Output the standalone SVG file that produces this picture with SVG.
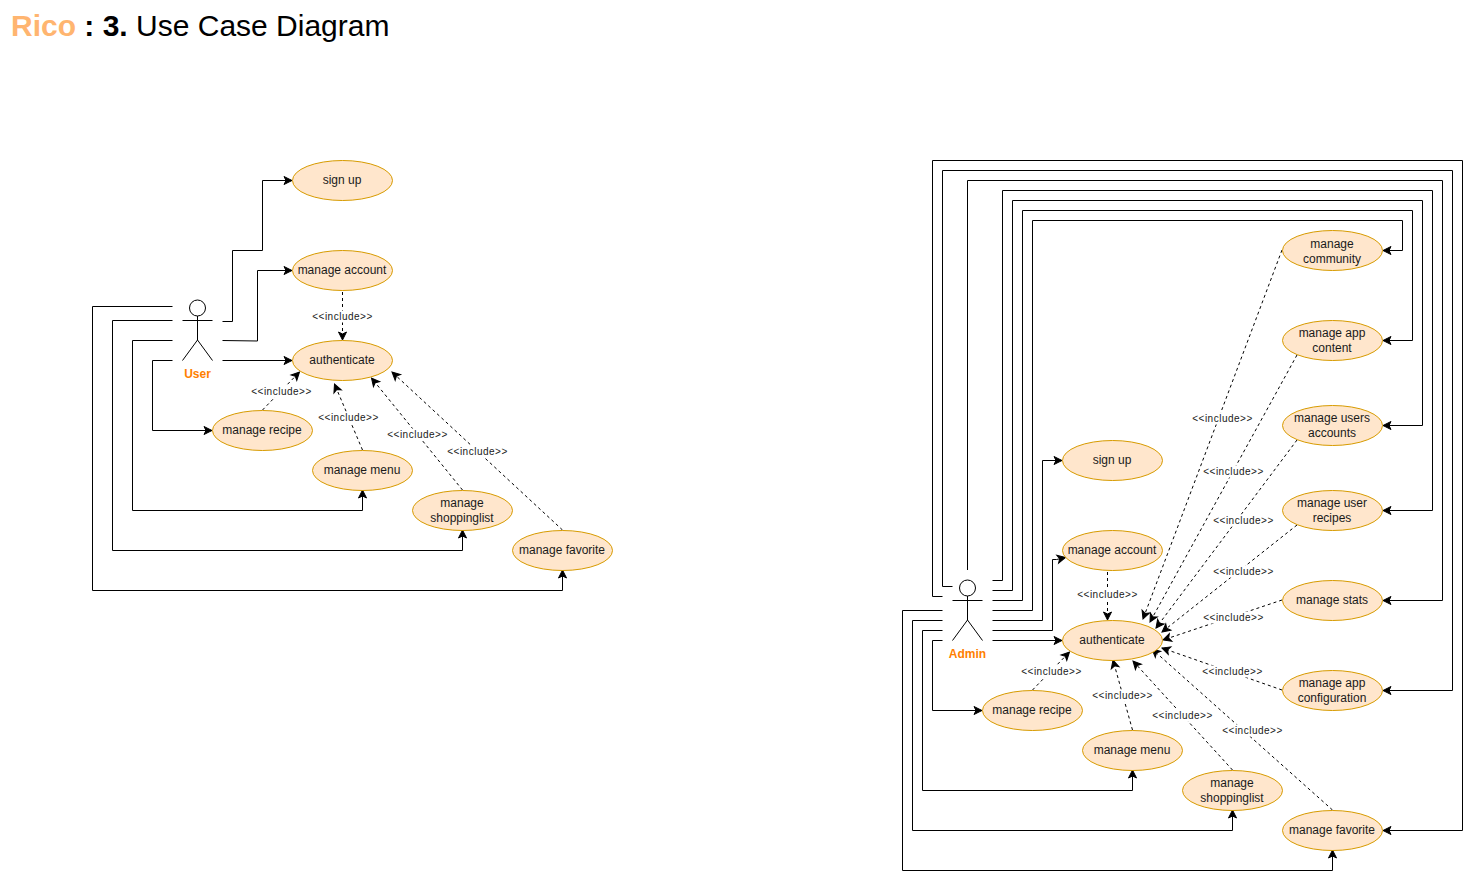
<svg xmlns="http://www.w3.org/2000/svg" width="1471" height="879" viewBox="0 0 1471 879">
<style>
text{font-family:"Liberation Sans",Arial,sans-serif;text-anchor:middle;fill:#1a1a1a}
.n ellipse{fill:#ffe6cc;stroke:#d79b00;stroke-width:1}
.n text{font-size:12px}
.a{fill:none;stroke:#000;stroke-width:1}
.c{fill:none;stroke:#000;stroke-width:1;marker-end:url(#arr)}
.d{fill:none;stroke:#000;stroke-width:1;stroke-dasharray:3 3;marker-end:url(#arr)}
.lr{fill:#fff}
.lt{font-size:10px;letter-spacing:.5px}
.act{font-size:12px;font-weight:bold;fill:#ff8000}
</style>
<defs>
<marker id="arr" markerUnits="userSpaceOnUse" markerWidth="10" markerHeight="10" refX="8" refY="4" orient="auto" overflow="visible"><path d="M0 0L8 4L0 8L2 4Z" fill="#000" stroke="#000" stroke-width="1"/></marker>
<g id="lb"><rect class="lr" x="-30" y="-6" width="60" height="12"/><text class="lt" y="3.500">&lt;&lt;include&gt;&gt;</text></g>
</defs>
<text x="11" y="36" style="text-anchor:start;font-size:30px;fill:#000"><tspan font-weight="bold" fill="#ffb570">Rico</tspan><tspan font-weight="bold"> : 3.</tspan> Use Case Diagram</text>

<g id="connectors">
<path class="c" d="M222.500 321.500H232.500V250.500H262.500V180.500H292"/>
<path class="c" d="M222.500 340.500L257.500 341V270.500H292"/>
<path class="c" d="M222.500 360.500H292"/>
<path class="c" d="M172.500 360.500H152.500V430.500H212"/>
<path class="c" d="M172.500 340.500H132.500V510.500H362.500V490"/>
<path class="c" d="M172.500 320.500H112.500V550.500H462.500V530"/>
<path class="c" d="M172.500 306.500H92.500V590.500H562.500V570"/>
<path class="d" d="M342.500 292V340"/>
<path class="d" d="M262.500 410L299.500 372"/>
<path class="d" d="M362.500 450L334.500 384"/>
<path class="d" d="M462.500 490L371.500 378"/>
<path class="d" d="M562.500 530L392 372"/>

<path class="c" d="M942.500 596.500H932.500V160.500H1462.500V830.500H1383"/>
<path class="c" d="M952.500 586.500H942.500V170.500H1452.500V690.500H1383"/>
<path class="c" d="M967.500 570V180.500H1442.500V600.500H1383"/>
<path class="c" d="M992.500 580.500H1002.500V190.500H1432.500V510.500H1383"/>
<path class="c" d="M992.500 590.500H1012.500V200.500H1422.500V425.500H1383"/>
<path class="c" d="M992.500 600.500H1022.500V210.500H1412.500V340.500H1383"/>
<path class="c" d="M992.500 610.500H1032.500V220.500H1402.500V250.500H1383"/>
<path class="c" d="M992.500 620.500H1042.500V460.500H1062"/>
<path class="c" d="M992.500 630.500H1052.500V559.500H1056.500L1065.500 557.500"/>
<path class="c" d="M992.500 640.500H1062"/>
<path class="c" d="M942.500 640.500H932.500V710.500H982"/>
<path class="c" d="M942.500 630.500H922.500V790.500H1132.500V770"/>
<path class="c" d="M942.500 620.500H912.500V830.500H1232.500V810"/>
<path class="c" d="M942.500 610.500H902.500V870.500H1332.500V850"/>
<path class="d" d="M1107.500 572V620"/>
<path class="d" d="M1032.500 690L1069.500 652"/>
<path class="d" d="M1132.500 730L1113 660"/>
<path class="d" d="M1232.500 770L1133 661"/>
<path class="d" d="M1332.500 810L1152 649"/>
<path class="d" d="M1282 690L1162 648"/>
<path class="d" d="M1282 600L1163 640"/>
<path class="d" d="M1297 525L1162 632"/>
<path class="d" d="M1297 440L1156 628"/>
<path class="d" d="M1297 355L1150 622"/>
<path class="d" d="M1282 250L1143 619"/>
<g id="labels">
<use href="#lb" x="342.500" y="316.500"/><use href="#lb" x="281.500" y="391.500"/><use href="#lb" x="348.500" y="417.500"/><use href="#lb" x="417.500" y="434.500"/><use href="#lb" x="477.500" y="451.500"/>
<use href="#lb" x="1107.500" y="594.500"/><use href="#lb" x="1051.500" y="671.500"/><use href="#lb" x="1122.500" y="695.500"/><use href="#lb" x="1182.500" y="715.500"/><use href="#lb" x="1252.500" y="730.500"/><use href="#lb" x="1232.500" y="671.500"/><use href="#lb" x="1233.500" y="617.500"/><use href="#lb" x="1243.500" y="571.500"/><use href="#lb" x="1243.500" y="520.500"/><use href="#lb" x="1233.500" y="471.500"/><use href="#lb" x="1222.500" y="418.500"/>
</g>
</g>

<g id="user"><circle class="a" cx="197.500" cy="308" r="8"/><path class="a" d="M197.500 316V340M182.500 320.500H212.500M197.500 340L182.500 360.500M197.500 340L212.500 360.500"/><text class="act" x="197.500" y="378">User</text></g>
<g id="admin"><circle class="a" cx="967.500" cy="588" r="8"/><path class="a" d="M967.500 596V620M952.500 600.500H982.500M967.500 620L952.500 640.500M967.500 620L982.500 640.500"/><text class="act" x="967.500" y="658">Admin</text></g>

<g id="u-signup" class="n"><ellipse cx="342.500" cy="180.500" rx="50" ry="20"/><text x="342" y="184">sign up</text></g>
<g id="u-account" class="n"><ellipse cx="342.500" cy="270.500" rx="50" ry="20"/><text x="342" y="274">manage account</text></g>
<g id="u-auth" class="n"><ellipse cx="342.500" cy="360.500" rx="50" ry="20"/><text x="342" y="364">authenticate</text></g>
<g id="u-recipe" class="n"><ellipse cx="262.500" cy="430.500" rx="50" ry="20"/><text x="262" y="434">manage recipe</text></g>
<g id="u-menu" class="n"><ellipse cx="362.500" cy="470.500" rx="50" ry="20"/><text x="362" y="474">manage menu</text></g>
<g id="u-shop" class="n"><ellipse cx="462.500" cy="510.500" rx="50" ry="20"/><text x="462" y="507">manage</text><text x="462" y="522">shoppinglist</text></g>
<g id="u-fav" class="n"><ellipse cx="562.500" cy="550.500" rx="50" ry="20"/><text x="562" y="554">manage favorite</text></g>

<g id="a-community" class="n"><ellipse cx="1332.500" cy="250.500" rx="50" ry="20"/><text x="1332" y="248">manage</text><text x="1332" y="263">community</text></g>
<g id="a-content" class="n"><ellipse cx="1332.500" cy="340.500" rx="50" ry="20"/><text x="1332" y="337">manage app</text><text x="1332" y="352">content</text></g>
<g id="a-users" class="n"><ellipse cx="1332.500" cy="425.500" rx="50" ry="20"/><text x="1332" y="422">manage users</text><text x="1332" y="437">accounts</text></g>
<g id="a-urecipes" class="n"><ellipse cx="1332.500" cy="510.500" rx="50" ry="20"/><text x="1332" y="507">manage user</text><text x="1332" y="522">recipes</text></g>
<g id="a-stats" class="n"><ellipse cx="1332.500" cy="600.500" rx="50" ry="20"/><text x="1332" y="604">manage stats</text></g>
<g id="a-config" class="n"><ellipse cx="1332.500" cy="690.500" rx="50" ry="20"/><text x="1332" y="687">manage app</text><text x="1332" y="702">configuration</text></g>
<g id="a-signup" class="n"><ellipse cx="1112.500" cy="460.500" rx="50" ry="20"/><text x="1112" y="464">sign up</text></g>
<g id="a-account" class="n"><ellipse cx="1112.500" cy="550.500" rx="50" ry="20"/><text x="1112" y="554">manage account</text></g>
<g id="a-auth" class="n"><ellipse cx="1112.500" cy="640.500" rx="50" ry="20"/><text x="1112" y="644">authenticate</text></g>
<g id="a-recipe" class="n"><ellipse cx="1032.500" cy="710.500" rx="50" ry="20"/><text x="1032" y="714">manage recipe</text></g>
<g id="a-menu" class="n"><ellipse cx="1132.500" cy="750.500" rx="50" ry="20"/><text x="1132" y="754">manage menu</text></g>
<g id="a-shop" class="n"><ellipse cx="1232.500" cy="790.500" rx="50" ry="20"/><text x="1232" y="787">manage</text><text x="1232" y="802">shoppinglist</text></g>
<g id="a-fav" class="n"><ellipse cx="1332.500" cy="830.500" rx="50" ry="20"/><text x="1332" y="834">manage favorite</text></g>
</svg>
